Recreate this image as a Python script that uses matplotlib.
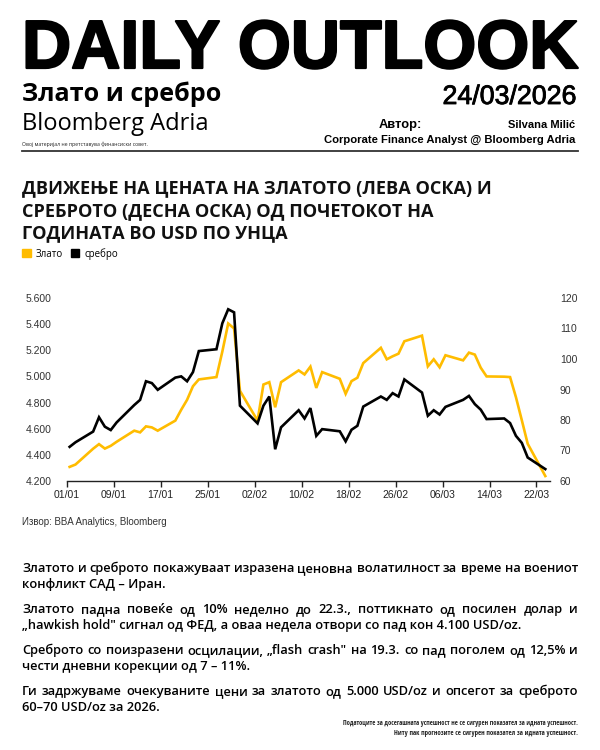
import matplotlib
matplotlib.use('Agg')
import matplotlib.pyplot as plt
import matplotlib.dates as mdates
import matplotlib.patheffects as pe
from matplotlib.patches import Patch
from matplotlib.ticker import FuncFormatter
from matplotlib import font_manager
import pandas as pd

# trading days, gold (USD/oz, left axis) and silver (USD/oz, right axis)
dates = ['2026-01-01', '2026-01-02', '2026-01-05', '2026-01-06', '2026-01-07', '2026-01-08', '2026-01-09',
         '2026-01-12', '2026-01-13', '2026-01-14', '2026-01-15', '2026-01-16',
         '2026-01-19', '2026-01-20', '2026-01-21', '2026-01-22', '2026-01-23',
         '2026-01-26', '2026-01-27', '2026-01-28', '2026-01-29', '2026-01-30',
         '2026-02-02', '2026-02-03', '2026-02-04', '2026-02-05', '2026-02-06',
         '2026-02-09', '2026-02-10', '2026-02-11', '2026-02-12', '2026-02-13',
         '2026-02-16', '2026-02-17', '2026-02-18', '2026-02-19', '2026-02-20',
         '2026-02-23', '2026-02-24', '2026-02-25', '2026-02-26', '2026-02-27',
         '2026-03-02', '2026-03-03', '2026-03-04', '2026-03-05', '2026-03-06',
         '2026-03-09', '2026-03-10', '2026-03-11', '2026-03-12', '2026-03-13',
         '2026-03-16', '2026-03-17', '2026-03-18', '2026-03-19', '2026-03-20',
         '2026-03-23']
gold = [4308, 4326, 4447, 4482, 4448, 4469, 4500,
        4585, 4572, 4618, 4610, 4585,
        4662, 4745, 4821, 4925, 4977,
        4995, 5190, 5405, 5367, 4890,
        4662, 4938, 4956, 4764, 4956,
        5046, 5015, 5075, 4912, 5033,
        4982, 4867, 4964, 4990, 5102,
        5219, 5131, 5154, 5174, 5269,
        5312, 5077, 5131, 5070, 5162,
        5123, 5182, 5167, 5067, 5000,
        4998, 4995, 4841, 4665, 4485,
        4238]
silver = [71.2, 72.7, 76.2, 80.9, 77.8, 76.7, 79.2,
          84.9, 86.6, 92.7, 92.1, 89.9,
          93.9, 94.3, 92.7, 95.7, 102.6,
          103.2, 111.7, 116.3, 115.3, 84.7,
          78.9, 84.7, 87.7, 70.4, 77.6,
          83.2, 80.5, 83.9, 74.8, 77.0,
          76.3, 73.0, 76.8, 78.1, 84.4,
          87.7, 86.6, 88.8, 87.7, 93.3,
          89.0, 81.4, 83.2, 81.8, 84.3,
          86.6, 87.9, 85.2, 83.4, 80.3,
          80.5, 79.0, 74.8, 72.5, 67.7,
          63.9]
x_ticks = ['2026-01-01', '2026-01-09', '2026-01-17', '2026-01-25', '2026-02-02', '2026-02-10',
           '2026-02-18', '2026-02-26', '2026-03-06', '2026-03-14', '2026-03-22']
gold_ticks = [4200, 4400, 4600, 4800, 5000, 5200, 5400, 5600]
silver_ticks = [60, 70, 80, 90, 100, 110, 120]
series_names = ['Злато', 'сребро']

title_lines = ['ДВИЖЕЊЕ НА ЦЕНАТА НА ЗЛАТОТО (ЛЕВА ОСКА) И',
               'СРЕБРОТО (ДЕСНА ОСКА) ОД ПОЧЕТОКОТ НА',
               'ГОДИНАТА ВО USD ПО УНЦА']
body_lines = [
    ('Златото и среброто покажуваат изразена ценовна волатилност за време на воениот', True),
    ('конфликт САД – Иран.', False),
    ('Златото падна повеќе од 10% неделно до 22.3., поттикнато од посилен долар и', True),
    ('„hawkish hold" сигнал од ФЕД, а оваа недела отвори со пад кон 4.100 USD/oz.', False),
    ('Среброто со поизразени осцилации, „flash crash" на 19.3. со пад поголем од 12,5% и', True),
    ('чести дневни корекции од 7 – 11%.', False),
    ('Ги задржуваме очекуваните цени за златото од 5.000 USD/oz и опсегот за среброто', True),
    ('60–70 USD/oz за 2026.', False),
]
body_y = [572, 588, 613, 629, 654, 670, 695, 711]

GOLD = '#FFBC00'

installed = {f.name for f in font_manager.fontManager.ttflist}


def pick(*names):
    for n in names:
        if n in installed:
            return n
    return 'DejaVu Sans'


def bold_face(*names):
    # first installed bold file among the candidate families
    for n in names:
        for f in font_manager.fontManager.ttflist:
            w = f.weight if isinstance(f.weight, int) else 700 * (f.weight == 'bold')
            if f.name == n and w >= 650 and f.style == 'normal':
                return font_manager.FontProperties(fname=f.fname)
    return font_manager.FontProperties(family=pick('Open Sans'), weight='bold')


HEAVY = pick('Liberation Sans', 'Arimo')
HUMAN = pick('Open Sans', 'Noto Sans')
SMALL = pick('Open Sans Condensed', 'Open Sans')
TITLE = bold_face('Noto Sans SemiCondensed', 'Noto Sans SemiCondensed Bold',
                  'Open Sans SemiCondensed', 'Noto Sans', 'Open Sans')

W, H = 600, 750
fig = plt.figure(figsize=(6, 7.5), dpi=100)
renderer = fig.canvas.get_renderer()


def put(x, y, s, **kw):
    return fig.text(x / W, 1 - y / H, s, va='baseline', **kw)


def width(t):
    return t.get_window_extent(renderer).width


def fit(x, y, s, target, size, **kw):
    t = put(x, y, s, fontsize=size, **kw)
    t.set_fontsize(size * target / width(t))
    return t


def justify(y, s, x0, x1, **kw):
    words = s.split(' ')
    ts = [put(x0, y, w, **kw) for w in words]
    ws = [width(t) for t in ts]
    gap = (x1 - x0 - sum(ws)) / (len(words) - 1)
    x = x0
    for t, w in zip(ts, ws):
        t.set_x(x / W)
        x += w + gap


# header
t = fit(22, 68, 'DAILY OUTLOOK', 556, 48, family=HEAVY, fontweight='bold', color='black')
t.set_path_effects([pe.Stroke(linewidth=1.6, foreground='black'), pe.Normal()])
fit(22, 101, 'Злато и сребро', 200, 18, family=HUMAN, fontweight='bold', color='black')
t = fit(576, 104, '24/03/2026', 134, 19, family=HEAVY, ha='right', color='black')
t.set_path_effects([pe.Stroke(linewidth=0.6, foreground='black'), pe.Normal()])
fit(22, 130, 'Bloomberg Adria', 186, 16, family=HUMAN, color='black')
fit(22, 146, 'Овој материјал не претставува финансиски совет.', 126, 4.5, family=HUMAN, color='#222')
put(379, 128, 'Автор:', family=HEAVY, fontweight='bold', fontsize=9.3, color='black')
fit(575, 128, 'Silvana Milić', 66, 9.3, family=HEAVY, fontweight='bold', ha='right', color='black')
fit(575, 143, 'Corporate Finance Analyst @ Bloomberg Adria', 250, 9.5, family=HEAVY,
    fontweight='bold', ha='right', color='black')
fig.add_artist(plt.Line2D([22 / W, 578 / W], [1 - 151 / H, 1 - 151 / H], color='#333', lw=1.3))

# chart title
t0 = fit(22, 193, title_lines[0], 470, 14, fontproperties=TITLE, color='#111')
tsize = t0.get_fontsize()
put(22, 216, title_lines[1], fontproperties=TITLE, fontsize=tsize, color='#111')
put(22, 238, title_lines[2], fontproperties=TITLE, fontsize=tsize, color='#111')

# chart
x = pd.to_datetime(dates) + pd.Timedelta(hours=12)
start = pd.Timestamp('2026-01-01')

ax = fig.add_axes([66.7 / W, 1 - 481 / H, (550 - 66.7) / W, (481 - 298) / H])
ax.plot(x, gold, color=GOLD, lw=1.9, solid_joinstyle='miter')
ax.set_ylim(4200, 5600)
ax.set_yticks(gold_ticks)
ax.yaxis.set_major_formatter(FuncFormatter(lambda v, p: f'{v:,.0f}'.replace(',', '.')))
ax.set_xlim(start, start + pd.Timedelta(days=82.3))
ax.set_xticks(pd.to_datetime(x_ticks))
ax.xaxis.set_major_formatter(mdates.DateFormatter('%d/%m'))
for s in ['top', 'left', 'right']:
    ax.spines[s].set_visible(False)
ax.spines['bottom'].set_color('#222')
ax.spines['bottom'].set_linewidth(1)
ax.tick_params(axis='y', length=0, pad=11, labelsize=7.5, labelcolor='#333')
ax.tick_params(axis='x', length=4, width=1, color='#222', pad=2.5, labelsize=7.5, labelcolor='#222')

ax2 = ax.twinx()
ax2.plot(x, silver, color='black', lw=1.9, solid_joinstyle='miter')
ax2.set_ylim(60, 120)
ax2.set_yticks(silver_ticks)
for s in ax2.spines.values():
    s.set_visible(False)
ax2.tick_params(axis='y', length=0, pad=7, labelsize=7.5, labelcolor='#333')
for a in (ax, ax2):
    for lab in a.get_xticklabels() + a.get_yticklabels():
        lab.set_family(HEAVY)

fig.legend(handles=[Patch(color=GOLD), Patch(color='black')], labels=series_names,
           loc='upper left', bbox_to_anchor=(22 / W, 1 - 248 / H), ncol=2, frameon=False,
           borderpad=0, borderaxespad=0,
           handlelength=0.9, handleheight=0.9, handletextpad=0.5, columnspacing=0.8,
           prop={'family': HUMAN, 'size': 7})

put(22, 525, 'Извор: BBA Analytics, Bloomberg', family=HEAVY, fontsize=7, color='#333')

# commentary
probe = put(22, 572, body_lines[0][0], family=HUMAN, fontweight='semibold', fontsize=9)
bsize = 9 * 556 / width(probe)
probe.remove()
for (s, just), y in zip(body_lines, body_y):
    if just:
        justify(y, s, 22, 578, family=HUMAN, fontweight='semibold', fontsize=bsize, color='black')
    else:
        put(22, y, s, family=HUMAN, fontweight='semibold', fontsize=bsize, color='black')

fit(578, 725, 'Податоците за досегашната успешност не се сигурен показател за идната успешност.',
    240, 5, family=SMALL, ha='right', color='#222')
fit(578, 735, 'Ниту пак прогнозите се сигурен показател за идната успешност.',
    185, 5, family=SMALL, ha='right', color='#222')

fig.savefig('out.png', dpi=100)
